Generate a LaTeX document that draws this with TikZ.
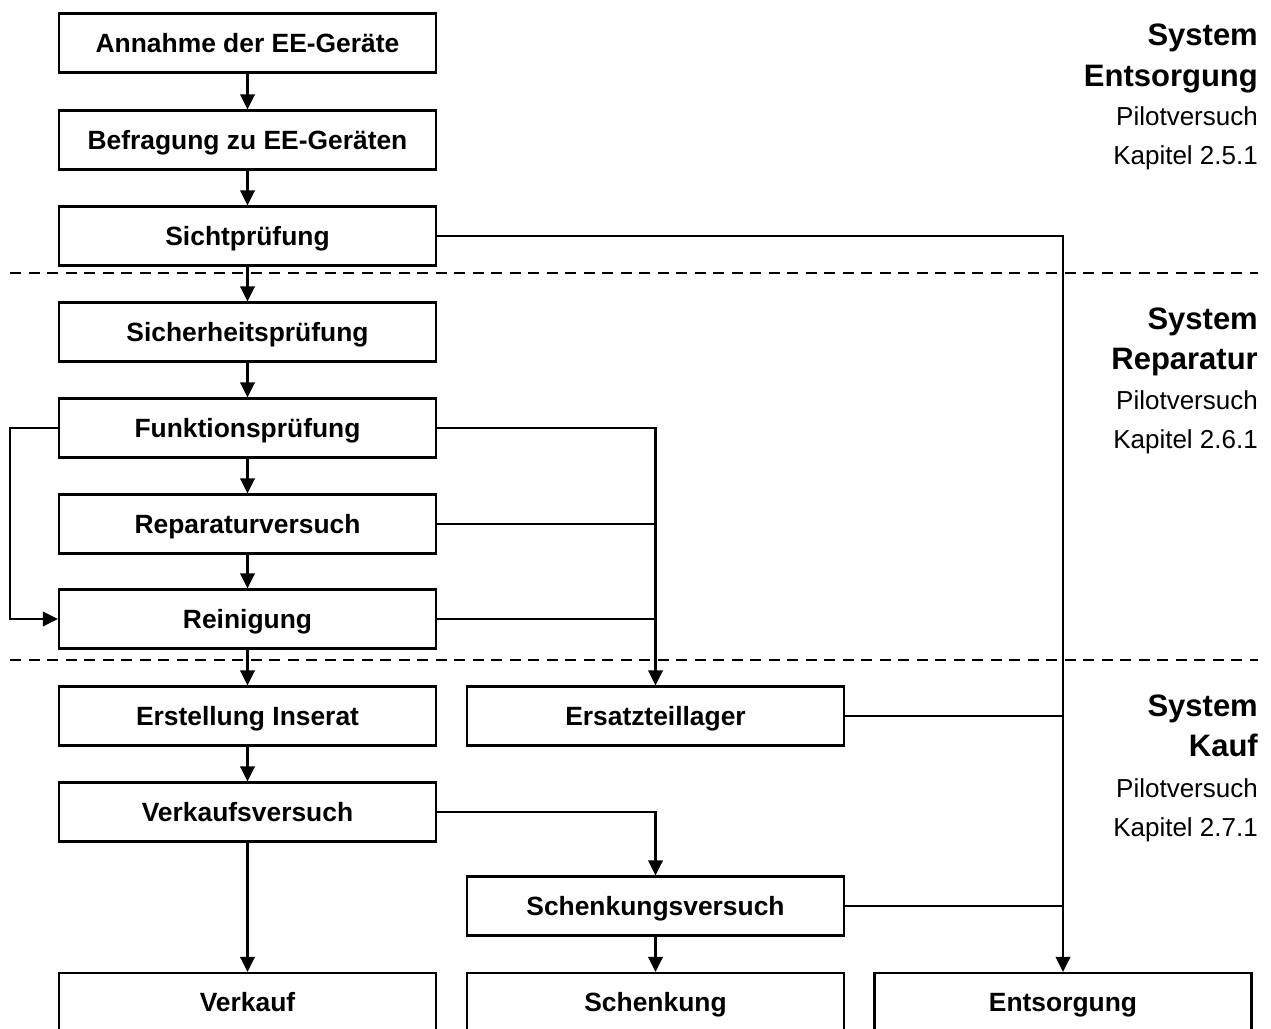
\documentclass[tikz,border=0pt]{standalone}
\usepackage{fontspec}
\setmainfont{Liberation Sans}
\usetikzlibrary{arrows.meta}
\begin{document}
\begin{tikzpicture}[x=1pt,y=-1pt,
  box/.style={draw=black, line width=2.2pt, rectangle, minimum width=377pt, minimum height=59pt,
    inner sep=0pt, text height=18.8pt, text depth=0pt, font=\fontsize{26.4}{30}\selectfont\bfseries},
  conn/.style={line width=2.2pt},
  arr/.style={conn, -{Triangle[length=15pt,width=14.5pt]}},
  sep/.style={line width=2.2pt, dash pattern=on 11pt off 7.5pt},
  sysb/.style={anchor=base east, inner sep=0pt, font=\fontsize{31}{36}\selectfont\bfseries},
  sysr/.style={anchor=base east, inner sep=0pt, font=\fontsize{26}{30}\selectfont}]
\clip (0,0) rectangle (1271,1028);
\fill[white] (0,0) rectangle (1271,1028);

% separators
\coordinate (s1a) at (10,273); \coordinate (s1b) at (1258,273);
\coordinate (s2a) at (10,660); \coordinate (s2b) at (1258,660);
\draw[sep] (s1a) -- (s1b);
\draw[sep] (s2a) -- (s2b);

% column 1
\node[box] (annahme) at (247.5,43) {Annahme der EE-Geräte};
\node[box] (befragung) at (247.5,140) {Befragung zu EE-Geräten};
\node[box] (sicht) at (247.5,236) {Sichtprüfung};
\node[box] (sicher) at (247.5,332) {Sicherheitsprüfung};
\node[box] (funk) at (247.5,428) {Funktionsprüfung};
\node[box] (rep) at (247.5,524) {Reparaturversuch};
\node[box] (rein) at (247.5,619) {Reinigung};
\node[box] (inserat) at (247.5,716) {Erstellung Inserat};
\node[box] (verkv) at (247.5,812) {Verkaufsversuch};
\node[box] (verkauf) at (247.5,1002.5) {Verkauf};
% column 2
\node[box] (ersatz) at (655.5,716) {Ersatzteillager};
\node[box] (schenkv) at (655.5,906) {Schenkungsversuch};
\node[box] (schenk) at (655.5,1002.5) {Schenkung};
% column 3
\node[box] (entsorg) at (1063,1002.5) {Entsorgung};

% connectors
\draw[arr] (annahme) -- (befragung);
\draw[arr] (befragung) -- (sicht);
\draw[arr] (sicht) -- (sicher);
\draw[arr] (sicher) -- (funk);
\draw[arr] (funk) -- (rep);
\draw[arr] (rep) -- (rein);
\draw[arr] (rein) -- (inserat);
\draw[arr] (inserat) -- (verkv);
\draw[arr] (verkv) -- (verkauf);
\draw[arr] (schenkv) -- (schenk);

\draw[arr] (sicht.east) -| (entsorg.north);
\coordinate (loopL) at (10,428);
\draw[arr] (funk.west) -- (loopL) |- (rein.west);
\draw[arr] (funk.east) -| (ersatz.north);
\draw[conn] (rep.east) -- (rep.east -| ersatz.north);
\draw[conn] (rein.east) -- (rein.east -| ersatz.north);
\draw[conn] (ersatz.east) -- (ersatz.east -| entsorg.north);
\draw[arr] (verkv.east) -| (schenkv.north);
\draw[conn] (schenkv.east) -- (schenkv.east -| entsorg.north);

% right labels
\node[sysb] (e1) at (1258,45) {System};
\node[sysb] (e2) at (1258,86) {Entsorgung};
\node[sysr] (e3) at (1258,125) {Pilotversuch};
\node[sysr] (e4) at (1258,164) {Kapitel 2.5.1};

\node[sysb] (r1) at (1258,329) {System};
\node[sysb] (r2) at (1258,369) {Reparatur};
\node[sysr] (r3) at (1258,409) {Pilotversuch};
\node[sysr] (r4) at (1258,448) {Kapitel 2.6.1};

\node[sysb] (k1) at (1258,716) {System};
\node[sysb] (k2) at (1258,756) {Kauf};
\node[sysr] (k3) at (1258,797) {Pilotversuch};
\node[sysr] (k4) at (1258,836) {Kapitel 2.7.1};
\end{tikzpicture}
\end{document}
